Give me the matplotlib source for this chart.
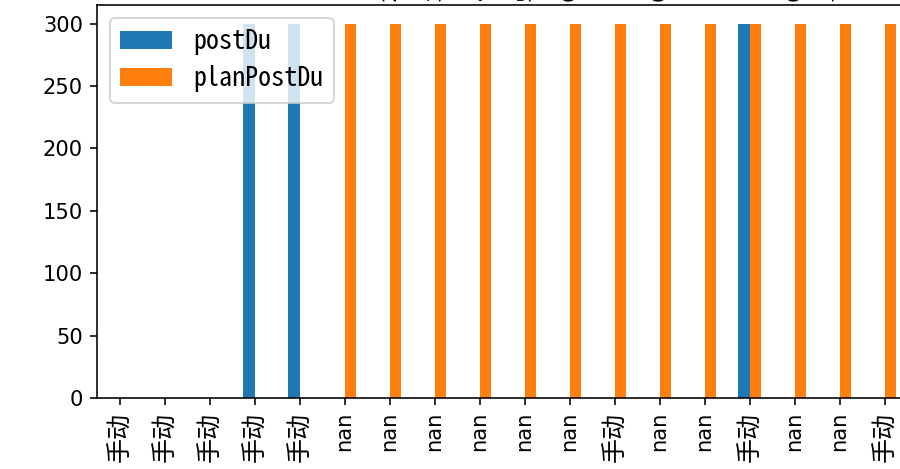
import numpy as np
import matplotlib
matplotlib.use('Agg')
import matplotlib.pyplot as plt

# categories along x (tick labels)
labels = ['手动', '手动', '手动', '手动', '手动', 'nan', 'nan', 'nan', 'nan', 'nan',
          'nan', '手动', 'nan', 'nan', '手动', 'nan', 'nan', '手动']
nan = np.nan
postDu = [nan, nan, nan, 300, 300, nan, nan, nan, nan, nan,
          nan, nan, nan, nan, 300, nan, nan, nan]
planPostDu = [nan, nan, nan, nan, nan, 300, 300, 300, 300, 300,
              300, 300, 300, 300, 300, 300, 300, 300]
# clipped rotated labels peeking in at the very top
top_digits = ['', '', '', '', '', '', '2', '3', '4', '5', '6', '', '0', '', '', '6', '7', '']

plt.rcParams['font.family'] = ['DejaVu Sans', 'Noto Sans CJK SC']

fig = plt.figure(figsize=(900 / 144, 469 / 144), dpi=144)
ax = fig.add_axes([97 / 900, 71 / 469, 810 / 900, 393 / 469])

x = np.arange(len(labels))
w = 0.25
ax.bar(x - w / 2, postDu, w, color='#1f77b4', label='postDu')
ax.bar(x + w / 2, planPostDu, w, color='#ff7f0e', label='planPostDu')

ax.set_xlim(-0.5, len(labels) - 0.5)
ax.set_ylim(0, 315)
ax.set_xticks(x)
ax.set_xticklabels(labels, rotation=90)
for t in ax.get_xticklabels():
    if t.get_text() == '手动':
        t.set_fontsize(12.5)
        t.set_family(['Noto Sans CJK SC', 'DejaVu Sans'])
    else:
        t.set_fontsize(10.5)
ax.set_yticks([0, 50, 100, 150, 200, 250, 300])
ax.tick_params(axis='y', labelsize=10.5)

ax.legend(loc='upper left', handlelength=2.0, labelspacing=0.38,
          prop={'family': ['Noto Sans Mono CJK SC', 'DejaVu Sans Mono'], 'size': 13})

# bits of another chart's labels cut off at the top edge
for i, d in enumerate(top_digits):
    if d:
        xf = ax.transData.transform((i, 0))[0] / fig.bbox.width
        fig.text(xf, 1 - 1 / 469, d, rotation=90, ha='center', va='bottom',
                 fontsize=10)

fig.savefig('out.png', dpi=144)
